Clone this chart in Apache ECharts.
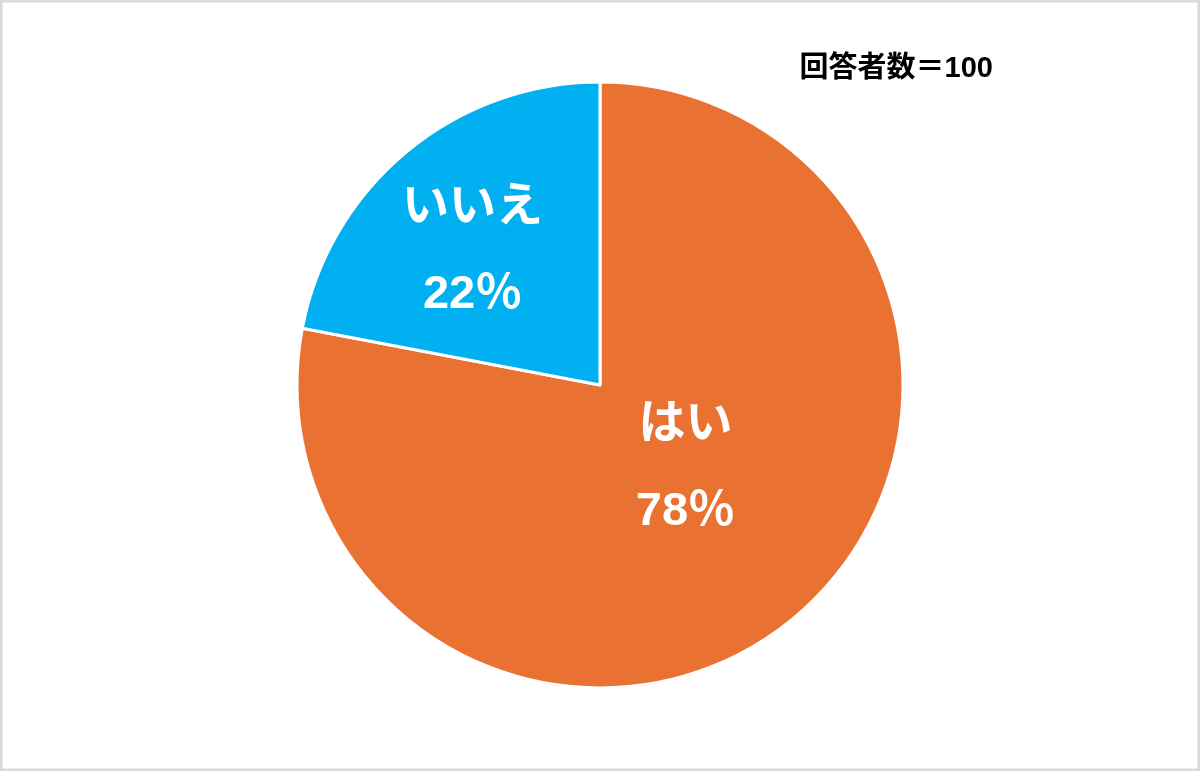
<!DOCTYPE html>
<html><head><meta charset="utf-8">
<script src="https://cdn.jsdelivr.net/npm/echarts@6/dist/echarts.min.js"></script>
<style>html,body{margin:0;padding:0;background:#fff}#c{width:1200px;height:771px}</style>
</head><body><div id="c"></div>
<script>
const categories = ['はい', 'いいえ'];
const values = [78, 22];
const colors = ['#E97132', '#00B0F0'];
const titleText = '回答者数＝100';
const labelShift = [[-13, -35], [-29, -14]];

const chart = echarts.init(document.getElementById('c'));
chart.setOption({
  backgroundColor: '#fff',
  animation: false,
  title: {
    text: titleText, right: 202, top: 49,
    textStyle: { fontFamily: '"Liberation Sans", "Noto Sans CJK JP"', fontWeight: 'bold', fontSize: 29, color: '#000' }
  },
  graphic: [{
    type: 'rect', shape: { x: 1, y: 1, width: 1198, height: 769 },
    style: { fill: 'none', stroke: '#d9d9d9', lineWidth: 3 }, silent: true
  }],
  series: [{
    type: 'pie',
    center: [600, 385],
    radius: [0, 303],
    startAngle: 90,
    clockwise: true,
    data: categories.map((c, i) => ({ name: c, value: values[i], itemStyle: { color: colors[i] } })),
    itemStyle: { borderColor: '#fff', borderWidth: 3 },
    label: {
      position: 'inside',
      formatter: p => p.name + '\n' + Math.round(p.percent) + '％',
      color: '#fff', fontFamily: '"Liberation Sans", "Noto Sans CJK JP"', fontWeight: 'bold',
      fontSize: 47, lineHeight: 87, align: 'center'
    },
    labelLayout: p => ({ dx: labelShift[p.dataIndex][0], dy: labelShift[p.dataIndex][1] }),
    labelLine: { show: false },
    emphasis: { disabled: true }
  }]
});
</script></body></html>
